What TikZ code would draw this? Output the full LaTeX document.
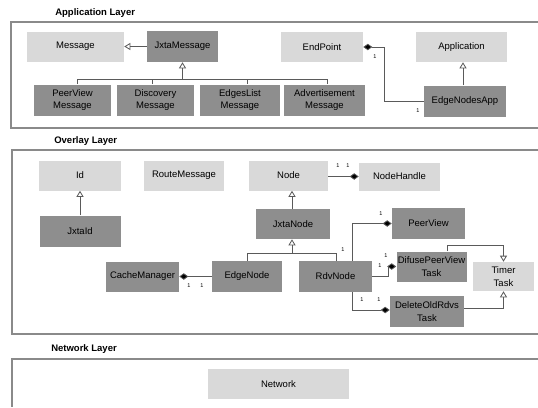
\documentclass[tikz,border=0pt]{standalone}
\usepackage{fontspec}
\setmainfont{Liberation Sans}
\usepackage{tikz}
\usetikzlibrary{arrows.meta}

\definecolor{litebox}{HTML}{D9D9D9}
\definecolor{darkbox}{HTML}{8E8E8E}
\definecolor{wire}{HTML}{5A5A5A}
\definecolor{frame}{HTML}{8A8A8A}

\begin{document}
\begin{tikzpicture}[x=1pt, y=-1pt, semithick, font=\fontsize{9.5}{12.5}\selectfont]
                \tikzstyle{lite}=[fill=litebox,inner sep=0pt,minimum height=30pt,align=center]
                \tikzstyle{dark}=[fill=darkbox,inner sep=0pt,minimum height=31pt,align=center]
                \tikzstyle{gen}=[draw=wire,line width=0.8pt,-{Triangle[open,length=6pt,width=7pt,fill=white]}]
                \tikzstyle{comp}=[draw=wire,line width=0.8pt,{Diamond[length=9pt,width=6.5pt,fill=black]}-]
                \tikzstyle{wire}=[draw=wire,line width=0.8pt]
                \tikzstyle{layer}=[draw=frame,line width=1.1pt]
                \tikzstyle{title}=[anchor=west,inner sep=0pt,font=\fontsize{9.5}{11}\selectfont\bfseries]
                \tikzstyle{mult}=[inner sep=0pt,font=\fontsize{5.5}{6}\selectfont]
                \useasboundingbox (0,0) rectangle (538,407);

                % layers
                \draw[layer] (538,22) -- (11,22) -- (11,128) -- (538,128);
                \draw[layer] (538,150) -- (12,150) -- (12,334) -- (538,334);
                \draw[layer] (538,359) -- (12,359) -- (12,407);
                \node[title] (appT) at (55,13)  {Application Layer};
                \node[title] (ovlT) at (54,141) {Overlay Layer};
                \node[title] (netT) at (51,349) {Network Layer};

                % application layer
                \node[lite, minimum width=97pt]  (Message)      at (75.5,46.5)  {Message};
                \node[dark, minimum width=71pt]  (JxtaMessage)  at (182.5,46.5) {JxtaMessage};
                \node[dark, minimum width=77pt]  (PeerViewMsg)  at (72.5,100)   {PeerView\\Message};
                \node[dark, minimum width=77pt]  (DiscoveryMsg) at (155.5,100)  {Discovery\\Message};
                \node[dark, minimum width=80pt]  (EdgesListMsg) at (240,100)    {EdgesList\\Message};
                \node[dark, minimum width=81pt]  (AdvertMsg)    at (324.5,100)  {Advertisement\\Message};
                \node[lite, minimum width=82pt]  (EndPoint)     at (322,47)     {EndPoint};
                \node[lite, minimum width=91pt]  (Application)  at (461.5,47)   {Application};
                \node[dark, minimum width=82pt]  (EdgeNodesApp) at (465,101)    {EdgeNodesApp};

                \coordinate (msgbus) at (182.5,79);
                \draw[gen] (JxtaMessage.west) -- (Message.east);
                \draw[gen] (msgbus) -- (JxtaMessage.south);
                \draw[wire] ([xshift=4.5pt]PeerViewMsg.north) |- (msgbus);
                \draw[wire] ([xshift=-3.5pt]DiscoveryMsg.north) |- (msgbus);
                \draw[wire] ([xshift=7pt]EdgesListMsg.north) |- (msgbus);
                \draw[wire] ([xshift=2.5pt]AdvertMsg.north) |- (msgbus);
                \draw[gen] ([xshift=-2pt]EdgeNodesApp.north) -- ([xshift=-2pt]EdgeNodesApp.north |- Application.south);
                \draw[comp] (EndPoint.east) -- ++(21,0) |- (EdgeNodesApp.west);
                \node[mult] (mA1) at (375,57)  {1};
                \node[mult] (mA2) at (418,111) {1};

                % overlay layer
                \node[lite, minimum width=82pt]  (Id)           at (80,175.5)   {Id};
                \node[lite, minimum width=80pt]  (RouteMessage) at (184,175.5)  {RouteMessage};
                \node[lite, minimum width=79pt]  (Node)         at (288.5,175.5) {Node};
                \node[lite, minimum width=81pt, minimum height=28pt] (NodeHandle) at (399.5,176.5) {NodeHandle};
                \node[dark, minimum width=81pt]  (JxtaId)       at (80,231)     {JxtaId};
                \node[dark, minimum width=74pt, minimum height=30pt] (JxtaNode) at (293,224) {JxtaNode};
                \node[dark, minimum width=73pt, minimum height=30pt] (CacheManager) at (142.5,276.5) {CacheManager};
                \node[dark, minimum width=70pt]  (EdgeNode)     at (247,276.5)  {EdgeNode};
                \node[dark, minimum width=73pt]  (RdvNode)      at (335.5,276.5) {RdvNode};
                \node[dark, minimum width=73pt]  (PeerView)     at (428.5,223.5) {PeerView};
                \node[dark, minimum width=70pt, minimum height=30pt] (DifusePV) at (431.5,266.5) {DifusePeerView\\Task};
                \node[lite, minimum width=61pt, minimum height=29pt] (TimerTask) at (503.5,276.5) {Timer\\Task};
                \node[dark, minimum width=74pt]  (DeleteOld)    at (427,311.5)  {DeleteOldRdvs\\Task};

                \coordinate (nodebus) at (292,253);
                \draw[gen] (JxtaId.north) -- (Id.south);
                \draw[gen] ([xshift=-1pt]JxtaNode.north) -- ([xshift=-1pt]JxtaNode.north |- Node.south);
                \draw[comp] (NodeHandle.west) -- (NodeHandle.west -| Node.east);
                \draw[gen] (nodebus) -- (nodebus |- JxtaNode.south);
                \draw[wire] (EdgeNode.north) |- (nodebus);
                \draw[wire] ([xshift=0.5pt]RdvNode.north) |- (nodebus);
                \draw[comp] (CacheManager.east) -- (EdgeNode.west);
                \draw[comp] (PeerView.west) -| ([xshift=16.5pt]RdvNode.north);
                \draw[comp] (DifusePV.west) -- ++(-8,0) |- (RdvNode.east);
                \draw[comp] ([yshift=1.5pt]DeleteOld.west) -| ([xshift=16.5pt]RdvNode.south);
                \draw[gen] ([xshift=15.5pt]DifusePV.north) -- ++(0,-6) -| (TimerTask.north);
                \draw[gen] ([yshift=3pt]DeleteOld.east) -| (TimerTask.south);
                \node[mult] (mN1) at (338,166) {1};
                \node[mult] (mN2) at (348,166) {1};
                \node[mult] (mC1) at (189,286) {1};
                \node[mult] (mC2) at (202,286) {1};
                \node[mult] (mP1) at (381,214) {1};
                \node[mult] (mP2) at (343,250) {1};
                \node[mult] (mD1) at (386,256) {1};
                \node[mult] (mD2) at (380,266) {1};
                \node[mult] (mO1) at (362,300) {1};
                \node[mult] (mO2) at (379,300) {1};

                % network layer
                \node[lite, minimum width=141pt] (Network) at (278.5,384) {Network};
            \end{tikzpicture}
\end{document}
